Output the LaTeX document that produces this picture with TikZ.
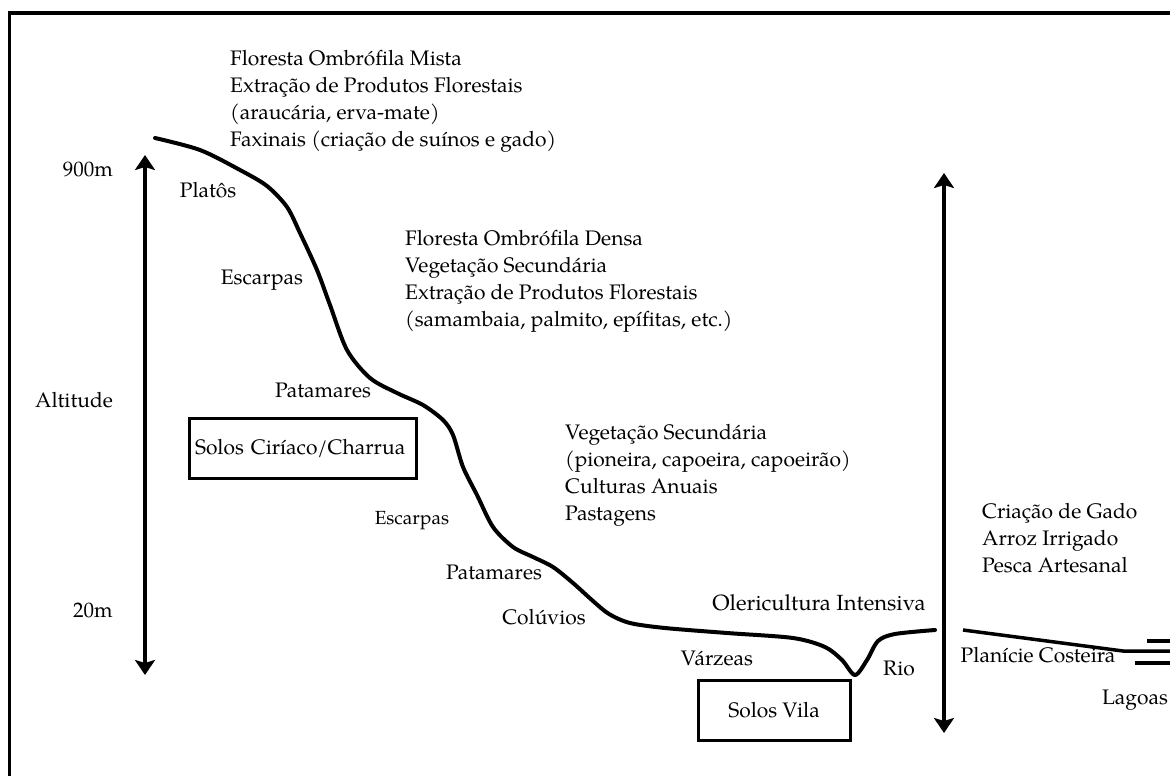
\documentclass[tikz,border=0pt]{standalone}
\usepackage{fontspec}
\setmainfont{TeX Gyre Pagella}
\usetikzlibrary{arrows.meta}
\begin{document}
\begin{tikzpicture}[x=1pt,y=-1pt,
  lbl/.style={inner sep=0pt, font=\fontsize{21}{27}\selectfont, text height=0.72em, text depth=0.22em},
  ln/.style={lbl, anchor=west},
  terrain/.style={line width=4pt, line cap=round, line join=round},
  coast/.style={line width=3.5pt},
  axisarrow/.style={line width=3.5pt, {Stealth[width=20pt,length=15pt,inset=3pt]}-{Stealth[width=20pt,length=15pt,inset=3pt]}},
  soil/.style={draw, line width=3pt, font=\fontsize{21}{27}\selectfont, minimum height=60pt}
]
\useasboundingbox (0,0) rectangle (1170,776);
% frame
\coordinate (ftl) at (8,13);
\coordinate (ftr) at (1170,13);
\coordinate (flt) at (9.5,11);
\coordinate (flb) at (9.5,776);
\draw[line width=4pt] (ftl) -- (ftr);
\draw[line width=2.5pt] (flt) -- (flb);

% altitude arrows
\coordinate (a1t) at (145,155);
\coordinate (a1b) at (145,675);
\draw[axisarrow] (a1b) -- (a1t);
\coordinate (a2t) at (944,173);
\coordinate (a2b) at (944,733);
\draw[axisarrow] (a2b) -- (a2t);

% terrain profile
\draw[terrain] plot[smooth, tension=0.5] coordinates {
 (155,138) (200,150) (240,170) (267,186) (287,207) (300,233) (317,270)
 (330,305) (347,350) (370,378) (397,393) (423,405) (443,420) (453,435)
 (463,467) (477,495) (493,527) (513,547) (533,557) (553,567) (573,583)
 (593,601) (609,614) (630,623) (665,628) (727,633) (793,638) (825,647)
 (842,660) (855,675) (867,660) (878,641) (895,634) (935,630)};

% coastal plain
\coordinate (c1) at (963,630);
\coordinate (c2) at (1123,651);
\coordinate (c3) at (1170,651);
\draw[coast] (c1) -- (c2) -- (c3);
\coordinate (l1a) at (1147,641);
\coordinate (l1b) at (1170,641);
\draw[coast] (l1a) -- (l1b);
\coordinate (l2a) at (1135,663);
\coordinate (l2b) at (1170,663);
\draw[coast] (l2a) -- (l2b);

% altitude labels
\node[lbl] (h900) at (88,174) {900m};
\node[lbl, anchor=west] (alt) at (35,405) {Altitude};
\node[lbl] (h20) at (93,615) {20m};

% landform labels
\node[lbl] (plat) at (208,195) {Platôs};
\node[lbl] (esc1) at (262,282) {Escarpas};
\node[lbl] (pat1) at (323,395) {Patamares};
\node[lbl, font=\fontsize{19}{24}\selectfont] (esc2) at (412,522) {Escarpas};
\node[lbl] (pat2) at (494,577) {Patamares};
\node[lbl] (col) at (544,622) {Colúvios};
\node[lbl] (varz) at (717,663) {Várzeas};
\node[lbl] (rio) at (899,673) {Rio};
\node[lbl, font=\fontsize{22}{27}\selectfont] (oler) at (819,608) {Olericultura Intensiva};
\node[lbl] (plan) at (1038,660) {Planície Costeira};
\node[lbl] (lag) at (1135,702) {Lagoas};

% land-use groups
\node[ln] (g1a) at (230,63) {Floresta Ombrófila Mista};
\node[ln] (g1b) at (230,90) {Extração de Produtos Florestais};
\node[ln] (g1c) at (230,117) {(araucária, erva-mate)};
\node[ln] (g1d) at (230,144) {Faxinais (criação de suínos e gado)};

\node[ln] (g2a) at (405,243) {Floresta Ombrófila Densa};
\node[ln] (g2b) at (405,270) {Vegetação Secundária};
\node[ln] (g2c) at (405,297) {Extração de Produtos Florestais};
\node[ln] (g2d) at (405,324) {(samambaia, palmito, epífitas, etc.)};

\node[ln] (g3a) at (565,437) {Vegetação Secundária};
\node[ln] (g3b) at (565,464) {(pioneira, capoeira, capoeirão)};
\node[ln] (g3c) at (565,491) {Culturas Anuais};
\node[ln] (g3d) at (565,518) {Pastagens};

\node[ln] (g4a) at (982,516) {Criação de Gado};
\node[ln] (g4b) at (982,543) {Arroz Irrigado};
\node[ln] (g4c) at (982,570) {Pesca Artesanal};

% soil boxes
\node[soil, minimum width=227pt, text width=215pt, inner xsep=6pt, align=left] (sol1) at (302.5,448) {Solos Ciríaco/Charrua};
\node[soil, minimum width=152pt] (sol2) at (774,710) {Solos Vila};
\end{tikzpicture}
\end{document}
